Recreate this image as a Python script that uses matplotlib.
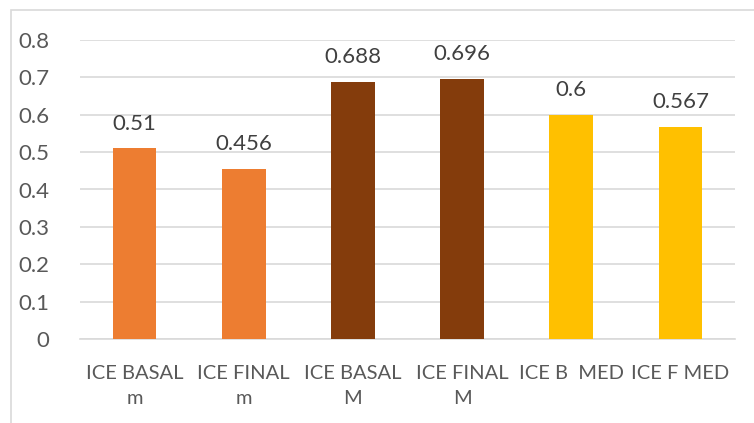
import matplotlib
matplotlib.use("Agg")
import matplotlib.pyplot as plt
from matplotlib.patches import Rectangle

categories = ["ICE BASAL\nm", "ICE FINAL\nm", "ICE BASAL\nM", "ICE FINAL\nM", "ICE B  MED", "ICE F MED"]
values = [0.51, 0.456, 0.688, 0.696, 0.6, 0.567]
value_labels = ["0.51", "0.456", "0.688", "0.696", "0.6", "0.567"]
colors = ["#ED7D31", "#ED7D31", "#843C0C", "#843C0C", "#FFC000", "#FFC000"]
yticks = [0, 0.1, 0.2, 0.3, 0.4, 0.5, 0.6, 0.7, 0.8]
ytick_labels = ["0", "0.1", "0.2", "0.3", "0.4", "0.5", "0.6", "0.7", "0.8"]

W, H = 754, 423
fig = plt.figure(figsize=(W / 100, H / 100), dpi=100)
fig.patch.set_facecolor("white")
ax = fig.add_axes([80 / W, 1 - 339 / H, 655 / W, 299 / H])

# outer chart frame
fig.patches.append(Rectangle((10.5 / W, -0.1), 1.0, 1 - 10.5 / H + 0.1,
                             transform=fig.transFigure, fill=False,
                             edgecolor="#D9D9D9", linewidth=1.2))

txt = "#595959"
fam = ["Lato", "DejaVu Sans"]
x = list(range(len(categories)))
ax.bar(x, values, width=0.4, color=colors, zorder=3)
for xi, v, lab in zip(x, values, value_labels):
    ax.text(xi, v + 0.066, lab, ha="center", va="center", fontsize=16,
            color="#404040", family=fam)

ax.set_xlim(-0.5, len(categories) - 0.5)
ax.set_ylim(0, 0.8)
ax.set_yticks(yticks)
ax.set_yticklabels(ytick_labels, fontsize=16, color=txt, family=fam)
ax.set_xticks(x)
ax.set_xticklabels(categories, fontsize=14.5, color=txt, linespacing=1.55,
                   family=fam)
ax.tick_params(axis="y", length=0, pad=22)
ax.tick_params(axis="x", length=0, pad=19)
ax.yaxis.grid(True, color="#D9D9D9", linewidth=1.2, zorder=0)
ax.set_axisbelow(True)
for s in ["top", "right", "left"]:
    ax.spines[s].set_visible(False)
ax.spines["bottom"].set_color("#D9D9D9")
ax.spines["bottom"].set_linewidth(1.2)

fig.savefig("out.png", dpi=100)
